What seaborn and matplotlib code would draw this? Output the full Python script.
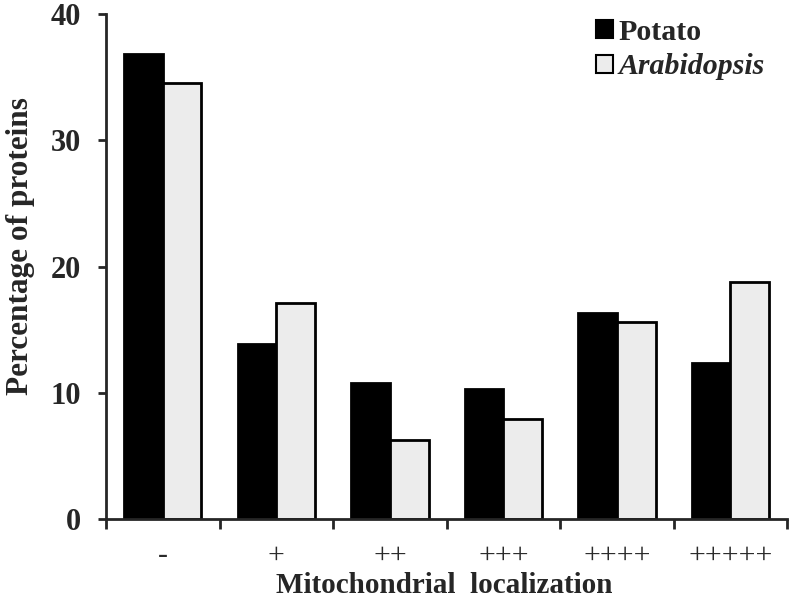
import numpy as np
import pandas as pd
import matplotlib.pyplot as plt
import seaborn as sns
from matplotlib.patches import Patch
from matplotlib.ticker import FixedLocator

# Data
categories = ["-", "+", "++", "+++", "++++", "+++++"]
potato = [36.8, 13.9, 10.8, 10.3, 16.3, 12.4]
arabidopsis = [34.5, 17.1, 6.3, 7.9, 15.6, 18.8]
series = ["Potato", "Arabidopsis"]
colors = ["#000000", "#ececec"]

df = pd.DataFrame({
    "Localization": categories * 2,
    "Percentage": potato + arabidopsis,
    "Species": [series[0]] * len(categories) + [series[1]] * len(categories),
})

sns.set_style("ticks")
plt.rcParams["font.family"] = ["Liberation Serif", "DejaVu Serif"]

fig = plt.figure(figsize=(7.92, 6.10), dpi=100)
ax = fig.add_axes([0.134, 0.149, 0.860, 0.828])

sns.barplot(data=df, x="Localization", y="Percentage", hue="Species",
            order=categories, hue_order=series, palette=colors,
            width=0.68, gap=0, edgecolor="black", linewidth=2,
            saturation=1, legend=False, ax=ax)

ax.set_ylim(0, 40)
ax.set_xlim(-0.5, len(categories) - 0.5)
ax.set_yticks([0, 10, 20, 30, 40])
ax.tick_params(axis="y", labelsize=22, width=2, length=6, pad=12, direction="out")
for lab in ax.get_yticklabels():
    lab.set_fontweight("bold")

# category labels centred, tick marks between categories
ax.set_xticks(range(len(categories)))
ax.set_xticklabels(categories, fontsize=21.5, color="#2a2a2a")
ax.tick_params(axis="x", length=0, pad=17)
ax.xaxis.set_minor_locator(FixedLocator(np.arange(-0.5, len(categories), 1.0)))
ax.tick_params(axis="x", which="minor", length=7, width=2, direction="out")

for side in ["left", "bottom"]:
    ax.spines[side].set_linewidth(2)
sns.despine(ax=ax)

ax.set_xlabel("Mitochondrial  localization", fontsize=21, fontweight="bold")
ax.xaxis.set_label_coords(0.497, -0.104)
ax.set_ylabel("Percentage of proteins", fontsize=22.5, fontweight="bold")
ax.yaxis.set_label_coords(-0.104, 0.54)

handles = [Patch(facecolor=c, edgecolor="black", linewidth=1.5) for c in colors]
leg = ax.legend(handles, series, loc="upper right",
                bbox_to_anchor=(765 / 792, 1 - 19 / 610), bbox_transform=fig.transFigure,
                frameon=False, borderpad=0, borderaxespad=0,
                handlelength=0.57, handleheight=0.55,
                handletextpad=0.2, labelspacing=0.24,
                prop={"size": 21.5, "weight": "bold"})
leg.get_texts()[1].set_style("italic")

fig.savefig("out.png", dpi=100)
